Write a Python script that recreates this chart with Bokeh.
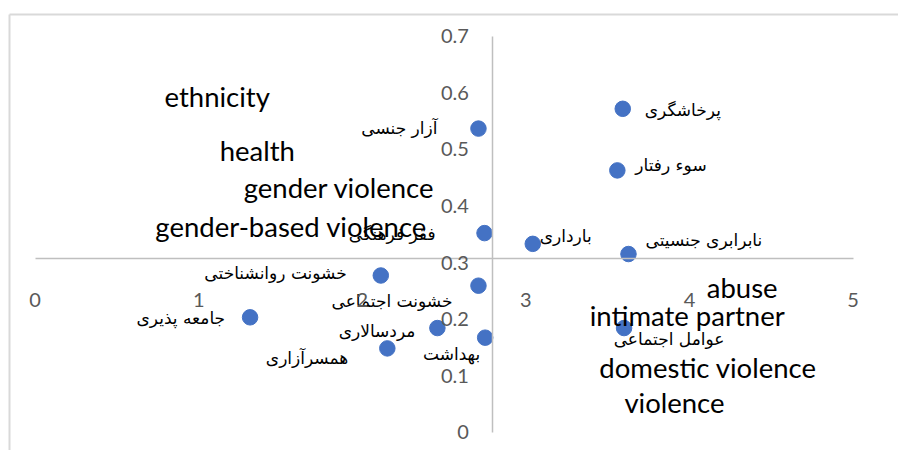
from bokeh.plotting import figure
from bokeh.models import ColumnDataSource, LinearAxis, FixedTicker, Range1d
from bokeh.core.properties import value
from bokeh.embed import file_html
from bokeh.resources import INLINE

# ---- data ----
labels = ["پرخاشگری", "سوء رفتار", "آزار جنسی", "فقر فرهنگی", "بارداری",
          "نابرابری جنسیتی", "خشونت روانشناختی", "خشونت اجتماعی", "جامعه پذیری",
          "مردسالاری", "همسرآزاری", "بهداشت", "عوامل اجتماعی"]
x_vals = [3.592, 3.559, 2.710, 2.747, 3.042, 3.627, 2.113, 2.710, 1.314,
          2.459, 2.153, 2.751, 3.600]
y_vals = [0.572, 0.463, 0.537, 0.352, 0.333, 0.315, 0.277, 0.259, 0.203,
          0.184, 0.148, 0.167, 0.184]

x_ticks = [0, 1, 2, 3, 4, 5]
y_ticks = [0, 0.1, 0.2, 0.3, 0.4, 0.5, 0.6, 0.7]

terms = ["ethnicity", "health", "gender violence", "gender-based violence",
         "abuse", "intimate partner", "domestic violence", "violence"]
term_x = [1.113, 1.358, 1.859, 1.565, 4.322, 3.986, 4.113, 3.908]
term_y = [0.594, 0.498, 0.432, 0.364, 0.255, 0.207, 0.115, 0.053]

# axes cross at the means of the data
x_cross = sum(x_vals) / len(x_vals)
y_cross = sum(y_vals) / len(y_vals)

# label placement (alignment, pixel offsets) for each point label
label_align = ["left", "left", "right", "right", "left", "left", "right",
               "right", "right", "right", "right", "right", "center"]
label_dx = [22, 18, -41, -49, 7, 17, -34, -26, -25, -22, -39, -5, 45]
label_dy = [1, -5, -1, 1, -8, -14, -3, 15, 1, 3, 10, 16, 11]

src = ColumnDataSource(dict(x=x_vals, y=y_vals, label=labels,
                            align=label_align, dx=label_dx, dy=label_dy))
term_src = ColumnDataSource(dict(x=term_x, y=term_y, t=terms))

p = figure(width=898, height=450,
           x_range=Range1d(-0.1565, 5.2775), y_range=Range1d(-0.0327, 0.7389),
           output_backend="svg", toolbar_location=None,
           min_border_left=9, min_border_right=0, min_border_top=14,
           min_border_bottom=0, outline_line_color=None,
           background_fill_color="white", border_fill_color="white")
p.grid.visible = False

AX = "#bfbfbf"
LBL = "#595959"
FONT = "Lato"

xa = p.xaxis[0]
xa.fixed_location = y_cross
xa.bounds = (0, 5)
xa.ticker = FixedTicker(ticks=x_ticks)
ya = p.yaxis[0]
ya.fixed_location = x_cross
ya.bounds = (0, 0.7)
ya.ticker = FixedTicker(ticks=y_ticks)
for ax in (xa, ya):
    ax.axis_line_color = AX
    ax.axis_line_width = 1.5
    ax.major_tick_line_color = None
    ax.minor_tick_line_color = None
    ax.major_tick_in = 0
    ax.major_tick_out = 0
    ax.minor_tick_in = 0
    ax.minor_tick_out = 0
    ax.major_label_text_font = FONT
    ax.major_label_text_font_size = "20px"
    ax.major_label_text_color = LBL
xa.major_label_standoff = 35
ya.major_label_standoff = 24
ya.major_label_overrides = {0: "0"}

# chart-area border (left and top edges)
for loc in ("left", "above"):
    b = LinearAxis(ticker=FixedTicker(ticks=[]), axis_line_color="#d9d9d9",
                   axis_line_width=2, major_tick_in=0, major_tick_out=0,
                   minor_tick_in=0, minor_tick_out=0, major_label_standoff=0,
                   major_label_text_font_size="0px")
    p.add_layout(b, loc)

p.scatter("x", "y", source=src, size=15.5, fill_color="#4472C4",
          line_color="#4472C4")

p.text("x", "y", text="t", source=term_src, text_align="center",
       text_baseline="alphabetic", text_font=value(FONT),
       text_font_size="27.5px", text_color="#000000")

p.text("x", "y", text="label", source=src, x_offset="dx", y_offset="dy",
       text_align="align", text_baseline="middle",
       text_font=value("DejaVu Sans"), text_font_size="17px",
       text_color="#000000")

open("out.html", "w").write(file_html(p, INLINE))
